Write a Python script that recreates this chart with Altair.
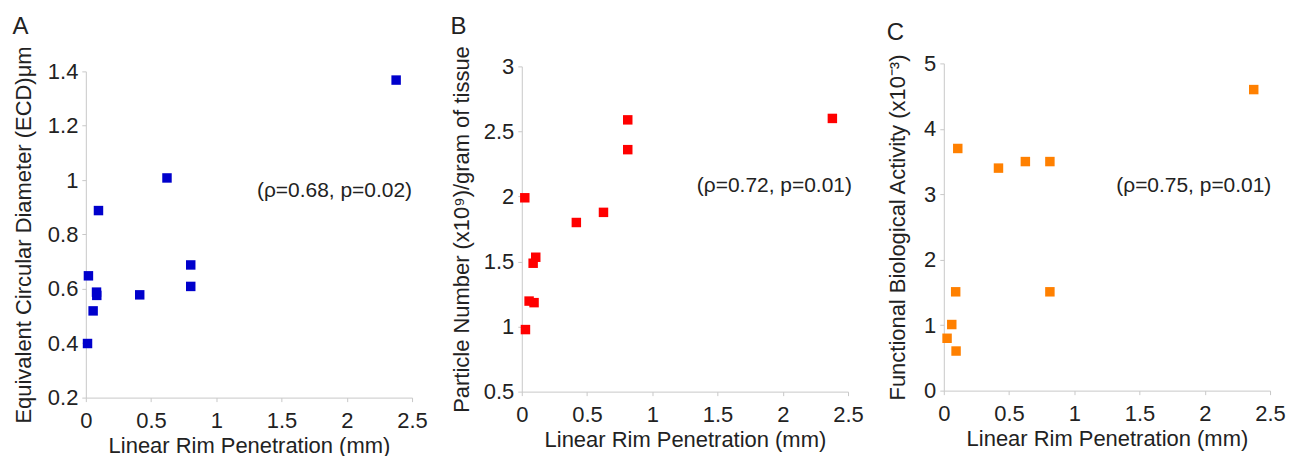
import altair as alt
import pandas as pd

# Panel A: Equivalent Circular Diameter
x_a = [2.378, 0.622, 0.097, 0.804, 0.804, 0.413, 0.020, 0.082, 0.084, 0.056, 0.013]
y_a = [1.368, 1.008, 0.888, 0.688, 0.609, 0.578, 0.648, 0.588, 0.576, 0.519, 0.399]

# Panel B: Particle Number
x_b = [2.380, 0.812, 0.812, 0.023, 0.626, 0.418, 0.107, 0.087, 0.056, 0.094, 0.028]
y_b = [2.600, 2.589, 2.360, 1.990, 1.878, 1.800, 1.533, 1.487, 1.196, 1.184, 0.977]

# Panel C: Functional Biological Activity
x_c = [2.375, 0.107, 0.419, 0.625, 0.813, 0.813, 0.091, 0.061, 0.025, 0.094]
y_c = [4.60, 3.70, 3.40, 3.50, 3.50, 1.51, 1.51, 1.01, 0.80, 0.605]

panel_labels = ["A", "B", "C"]
y_titles = [
    "Equivalent Circular Diameter (ECD)\u03bcm",
    "Particle Number (x10\u2079)/gram of tissue",
    "Functional Biological Activity (x10\u207b\u00b3)",
]
x_title = "Linear Rim Penetration (mm)"
notes = ["(\u03c1=0.68, p=0.02)", "(\u03c1=0.72, p=0.01)", "(\u03c1=0.75, p=0.01)"]
note_x = [2.50, 2.53, 2.51]
note_y = [0.96, 2.08, 3.13]
y_domains = [[0.2, 1.4], [0.5, 3.0], [0.0, 5.0]]
y_ticks = [[0.2, 0.4, 0.6, 0.8, 1.0, 1.2, 1.4],
           [0.5, 1.0, 1.5, 2.0, 2.5, 3.0],
           [0, 1, 2, 3, 4, 5]]
x_ticks = [0, 0.5, 1, 1.5, 2, 2.5]
colors = ["#0000cc", "#ff0000", "#ff8000"]

# panel geometry (plot heights and vertical pixel range of each y scale)
heights = [335, 329, 328]
y_ranges = [[335, 8], [329, 3], [328, 0]]
y_title_pads = [12, 10, 14]

FONT = "Liberation Sans"
TXT = "#222222"
GRAY = "#c8c8c8"


def panel(i, xs, ys, title_offset):
    df = pd.DataFrame({"x": xs, "y": ys})
    xenc = alt.X("x:Q", scale=alt.Scale(domain=[0, 2.5], nice=False),
                 axis=alt.Axis(title=x_title, values=x_ticks, format="~g",
                               titlePadding=4, labelPadding=9, labelFlush=False))
    yenc = alt.Y("y:Q", scale=alt.Scale(domain=y_domains[i], nice=False, zero=False,
                                        range=y_ranges[i]),
                 axis=alt.Axis(title=y_titles[i], values=y_ticks[i], format="~g",
                               titlePadding=y_title_pads[i]))
    pts = alt.Chart(df).mark_point(shape="square", filled=True, size=90,
                                   opacity=1, color=colors[i]).encode(x=xenc, y=yenc)
    ndf = pd.DataFrame({"x": [note_x[i]], "y": [note_y[i]], "t": [notes[i]]})
    txt = alt.Chart(ndf).mark_text(align="right", baseline="middle", font=FONT,
                                   fontSize=21, color=TXT).encode(
        x="x:Q", y="y:Q", text="t:N")
    return alt.layer(pts, txt).properties(
        width=327, height=heights[i],
        title=alt.TitleParams(panel_labels[i], anchor="start", frame="bounds",
                              fontSize=24, fontWeight="normal", font=FONT,
                              color=TXT, offset=7),
    )


a = panel(0, x_a, y_a, 7)
b = panel(1, x_b, y_b, 7)
c = panel(2, x_c, y_c, 7)

chart = alt.hconcat(a, b, c, spacing=22).properties(
    padding={"left": 4, "top": 6, "right": 0, "bottom": 0}
).configure_view(stroke=None).configure_axis(
    grid=False,
    labelFont=FONT, titleFont=FONT,
    labelFontSize=22, titleFontSize=22,
    titleFontWeight="normal",
    labelColor=TXT, titleColor=TXT,
    domainColor=GRAY, tickColor=GRAY, tickSize=4, labelPadding=4,
)

chart.save("out.html", embed_options={"renderer": "svg", "actions": False})
